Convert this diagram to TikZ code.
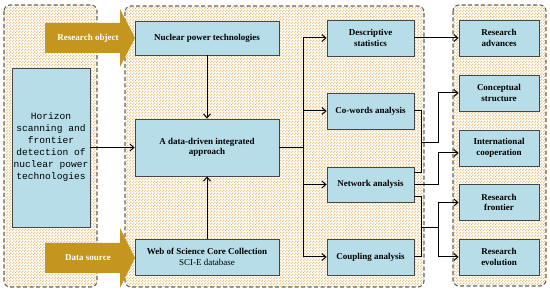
\documentclass[tikz,border=0pt]{standalone}
\usepackage{fontspec}
\setmainfont{Liberation Serif}
\newfontfamily\horizfont{Liberation Mono}
\usetikzlibrary{arrows.meta, patterns, positioning, calc}

\definecolor{boxblue}{RGB}{183,222,232}
\definecolor{boxedge}{RGB}{70,70,70}
\definecolor{goldarrow}{RGB}{197,150,30}
\definecolor{tanhatch}{RGB}{236,200,140}
\definecolor{paneledge}{RGB}{100,100,100}

% fine checks for the panel backgrounds
\pgfdeclarepatternformonly{finechecks}{\pgfpointorigin}{\pgfqpoint{3pt}{3pt}}{\pgfqpoint{3pt}{3pt}}{%
  \pgfpathrectangle{\pgfpointorigin}{\pgfqpoint{1.5pt}{1.5pt}}%
  \pgfpathrectangle{\pgfqpoint{1.5pt}{1.5pt}}{\pgfqpoint{1.5pt}{1.5pt}}%
  \pgfusepath{fill}}

\tikzset{
  panel/.style={draw=paneledge, dash pattern=on 4pt off 2.5pt, line width=1.1pt,
    rounded corners=6pt, preaction={fill=white}, pattern=finechecks, pattern color=tanhatch},
  box/.style={draw=boxedge, fill=boxblue, line width=0.8pt, align=center, inner sep=1pt,
    font=\bfseries\fontsize{9}{10.5}\selectfont},
  link/.style={-{Straight Barb[length=4pt,width=7pt]}, line width=1pt},
  wire/.style={line width=1pt},
  goldtext/.style={text=white, font=\bfseries\fontsize{9}{10.5}\selectfont},
}

\begin{document}
\begin{tikzpicture}[x=1pt, y=-1pt]
    \useasboundingbox (0,0) rectangle (550,291);

    % Dashed panels
    \draw[panel] (4,5) rectangle (97,287);
    \draw[panel] (125,6) rectangle (424,287);
    \draw[panel] (453,5) rectangle (546,286);

    % Input boxes
    \node[box, minimum width=78pt, minimum height=159pt, inner sep=0pt,
        font=\horizfont\fontsize{9.6}{12}\selectfont]
        (horiz) at (51,147.5) {Horizon\\scanning and\\frontier\\detection of\\nuclear power\\technologies};
    \node[box, minimum width=144pt, minimum height=34pt] (nuc) at (207,38) {Nuclear power technologies};
    \node[box, minimum width=144pt, minimum height=57pt] (integ) at (207,147.5) {A data-driven integrated\\approach};
    \node[box, minimum width=144pt, minimum height=36pt] (wos) at (207,257)
        {Web of Science Core Collection\\\mdseries SCI-E database};

    % Gold arrows
    \fill[goldarrow] (45,23) -- (120,23) -- (120,9) -- (135,38) -- (120,67) -- (120,53) -- (45,53) -- cycle;
    \node[goldtext] (robj) at (88,38) {Research object};
    \fill[goldarrow] (45,243) -- (120,243) -- (120,228) -- (135,258) -- (120,288) -- (120,273) -- (45,273) -- cycle;
    \node[goldtext] (dsrc) at (88,258) {Data source};

    % Analysis boxes
    \node[box, minimum width=87pt, minimum height=36pt] (desc) at (370.5,38) {Descriptive\\statistics};
    \node[box, minimum width=87pt, minimum height=36pt] (cowd) at (370.5,111) {Co-words analysis};
    \node[box, minimum width=87pt, minimum height=35pt] (netw) at (370.5,184.5) {Network analysis};
    \node[box, minimum width=87pt, minimum height=36pt] (coup) at (370.5,257) {Coupling analysis};

    % Result boxes
    \node[box, minimum width=80pt, minimum height=36pt] (adv) at (499,38) {Research\\advances};
    \node[box, minimum width=80pt, minimum height=36pt] (conc) at (499,93) {Conceptual\\structure};
    \node[box, minimum width=80pt, minimum height=36pt] (intl) at (499,148) {International\\cooperation};
    \node[box, minimum width=80pt, minimum height=36pt] (front) at (499,202.5) {Research\\frontier};
    \node[box, minimum width=80pt, minimum height=36pt] (evol) at (499,257) {Research\\evolution};

    % Inputs to the approach
    \draw[link] (nuc) -- (integ);
    \draw[link] (wos) -- (integ);
    \draw[link] (horiz) -- (integ);

    % Branch to the analyses
    \coordinate (split) at (303,147.5);
    \draw[wire] (integ.east) -- (split);
    \draw[wire] (split |- desc) -- (split |- coup);
    \draw[link] (split |- desc) -- (desc);
    \draw[link] (split |- cowd) -- (cowd);
    \draw[link] (split |- netw) -- (netw);
    \draw[link] (split |- coup) -- (coup);

    % Analyses to results
    \coordinate (jc) at (421,143);
    \coordinate (jf) at (421,228);
    \coordinate (col) at (438,0);
    \draw[link] (desc) -- (adv);
    \draw[wire] (cowd.east) -| (jc);
    \draw[wire] ([yshift=11.5pt]netw.east) -| (jc);
    \draw[link] (jc) -- (jc -| col) |- (conc.west);
    \draw[link] (netw.east) -- (col |- netw.east) |- ([yshift=-5pt]intl.west);
    \draw[wire] ([yshift=-12.5pt]netw.east) -| (jf);
    \draw[wire] (coup.east) -| (jf);
    \draw[wire] (jf) -- (col |- jf);
    \draw[wire] (col |- front) -- (col |- evol);
    \draw[link] (col |- front) -- (front);
    \draw[link] (col |- evol) -- (evol);
\end{tikzpicture}
\end{document}
